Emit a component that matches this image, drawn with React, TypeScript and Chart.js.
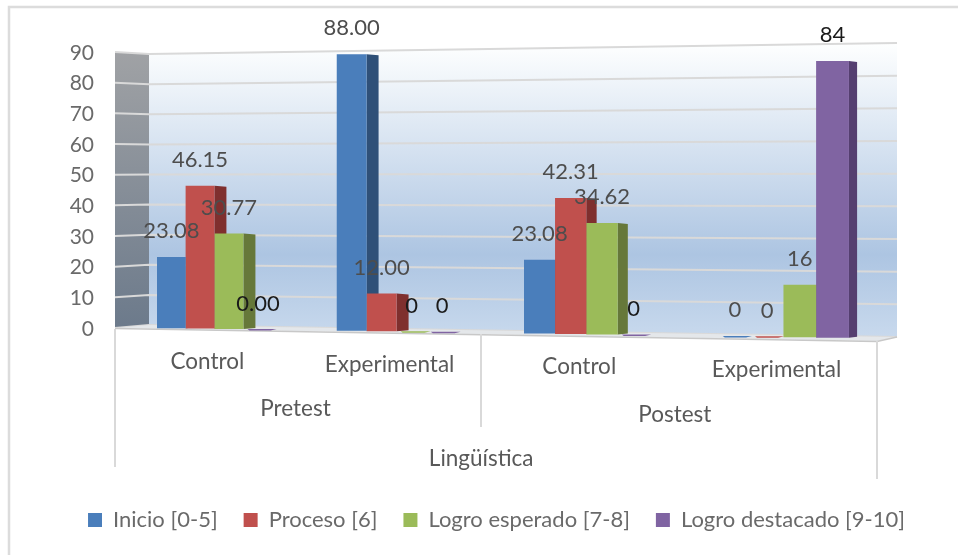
import React, { useEffect, useRef } from "react";
import { Chart, registerables } from "chart.js";

Chart.register(...registerables);

// ---- data ----
const categories = ["Control", "Experimental", "Control", "Experimental"];
const groups = ["Pretest", "Postest"];
const topLevel = "Lingüística";
const seriesNames = ["Inicio [0-5]", "Proceso [6]", "Logro esperado [7-8]", "Logro destacado [9-10]"];
const inicio = [23.08, 88.0, 23.08, 0];
const proceso = [46.15, 12.0, 42.31, 0];
const esperado = [30.77, 0, 34.62, 16];
const destacado = [0, 0, 0, 84];
const inicioLabels = ["23.08", "88.00", "23.08", "0"];
const procesoLabels = ["46.15", "12.00", "42.31", "0"];
const esperadoLabels = ["30.77", "0", "34.62", "16"];
const destacadoLabels = ["0.00", "0", "0", "84"];
const yTicks = [0, 10, 20, 30, 40, 50, 60, 70, 80, 90];

// ---- styles ----
const frontColors = ["#4a7ebb", "#c0504d", "#9bbb59", "#8064a2"];
const sideColors = ["#2f5078", "#7f2f2e", "#66783a", "#553f70"];
const FONT = "Lato, Carlito, sans-serif";
const TEXT = "#595959";
const LINE = "#d9d9d9";
const allLabels = [inicioLabels, procesoLabels, esperadoLabels, destacadoLabels];
const blackLabels = ["3:0", "2:1", "3:1", "3:2", "3:3"];

// ---- 3D projection of the flat scales ----
const warpX = (chart: any, px: number) => {
  const a = chart.chartArea;
  const t = (px - a.left) / ((a.right - a.left) / 4) - 0.5 + 0.324;
  return 157 + 176 * t + 3.75 * t * t;
};
const floorY = (x: number) => 328 + (x - 157) * 0.0145;
const unitY = (x: number) => 3.08 + (x - 157) * 0.00032;
const sideDepth = (x: number) => Math.max(8, 12 - Math.max(0, x - 395) * 0.0085);
const wallY = (x: number, v: number) => {
  const k = (x - 149) / (897 - 149);
  const base = 325 + 12 * k;
  const u = 3.01 + 0.257 * k;
  return base - v * u;
};

const plugin3d = {
  id: "plugin3d",
  afterLayout(chart: any) {
    const lg = chart.legend;
    lg.top = 483;
    lg.bottom = 483 + lg.height;
    lg.left += 48;
    lg.right += 48;
  },
  afterDatasetsUpdate(chart: any) {
    const ys = chart.scales.y;
    chart.data.datasets.forEach((_: any, di: number) => {
      chart.getDatasetMeta(di).data.forEach((el: any) => {
        const l = warpX(chart, el.x - el.width / 2);
        const r = warpX(chart, el.x + el.width / 2);
        const c = (l + r) / 2;
        const v = ys.getValueForPixel(el.y);
        el.x = c;
        el.width = r - l;
        el.base = floorY(c);
        el.y = el.base - v * unitY(c);
        el.height = el.base - el.y;
      });
    });
  },
  beforeDatasetsDraw(chart: any) {
    const ctx = chart.ctx;
    ctx.save();
    // page frame
    ctx.strokeStyle = "#dcdcdc";
    ctx.lineWidth = 2.5;
    ctx.beginPath();
    ctx.moveTo(958, 7);
    ctx.lineTo(9, 7);
    ctx.lineTo(9, 555);
    ctx.stroke();
    // back wall
    const back = ctx.createLinearGradient(0, 43, 0, 337);
    back.addColorStop(0, "#feffff");
    back.addColorStop(0.72, "#adc5e2");
    back.addColorStop(1, "#c8d9ed");
    ctx.fillStyle = back;
    ctx.beginPath();
    ctx.moveTo(149, wallY(149, 90));
    ctx.lineTo(897, wallY(897, 90));
    ctx.lineTo(897, wallY(897, 0));
    ctx.lineTo(149, wallY(149, 0));
    ctx.closePath();
    ctx.fill();
    // side wall
    const side = ctx.createLinearGradient(0, 52, 0, 328);
    side.addColorStop(0, "#a0a2a5");
    side.addColorStop(1, "#6c7a8b");
    ctx.fillStyle = side;
    ctx.beginPath();
    ctx.moveTo(115, 328 - 90 * 3.067);
    ctx.lineTo(149, wallY(149, 90));
    ctx.lineTo(149, wallY(149, 0));
    ctx.lineTo(115, 328);
    ctx.closePath();
    ctx.fill();
    // gridlines from the value axis ticks
    ctx.strokeStyle = LINE;
    ctx.lineWidth = 2;
    yTicks.forEach((v) => {
      ctx.beginPath();
      ctx.moveTo(115, 328 - v * 3.067);
      ctx.lineTo(149, wallY(149, v));
      ctx.lineTo(897, wallY(897, v));
      ctx.stroke();
    });
    // floor
    ctx.fillStyle = "#e4e7ea";
    ctx.beginPath();
    ctx.moveTo(115, 328);
    ctx.lineTo(149, wallY(149, 0));
    ctx.lineTo(897, wallY(897, 0));
    ctx.lineTo(877, 341);
    ctx.closePath();
    ctx.fill();
    ctx.strokeStyle = "#c8c8c8";
    ctx.lineWidth = 1.5;
    ctx.beginPath();
    ctx.moveTo(115, 328.5);
    ctx.lineTo(877, 341.5);
    ctx.lineTo(897, 337);
    ctx.stroke();
    // multi-level separators
    ctx.strokeStyle = LINE;
    ctx.lineWidth = 2;
    [
      [115, 329, 467],
      [481, 334, 427],
      [877, 341, 479],
    ].forEach(([x, a, b]) => {
      ctx.beginPath();
      ctx.moveTo(x, a);
      ctx.lineTo(x, b);
      ctx.stroke();
    });
    // bar side faces and zero slivers
    chart.data.datasets.forEach((ds: any, di: number) => {
      chart.getDatasetMeta(di).data.forEach((el: any, i: number) => {
        const right = el.x + el.width / 2;
        const d = sideDepth(right);
        if (ds.data[i] === 0) {
          ctx.fillStyle = frontColors[di];
          ctx.beginPath();
          ctx.moveTo(el.x - el.width / 2 + 4, el.base - 0.5);
          ctx.lineTo(right + d - 8, el.base - 0.5);
          ctx.lineTo(right + d - 14, el.base + 1);
          ctx.lineTo(el.x - el.width / 2 + 6, el.base + 1);
          ctx.closePath();
          ctx.fill();
          return;
        }
        ctx.fillStyle = sideColors[di];
        ctx.beginPath();
        ctx.moveTo(right, el.y);
        ctx.lineTo(right + d, el.y + 1);
        ctx.lineTo(right + d, el.base - 1);
        ctx.lineTo(right, el.base);
        ctx.closePath();
        ctx.fill();
      });
    });
    ctx.restore();
  },
  afterDatasetsDraw(chart: any) {
    const ctx = chart.ctx;
    ctx.save();
    ctx.textAlign = "center";
    ctx.textBaseline = "middle";
    // data labels
    ctx.font = `22px ${FONT}`;
    chart.data.datasets.forEach((_: any, di: number) => {
      chart.getDatasetMeta(di).data.forEach((el: any, i: number) => {
        ctx.fillStyle = blackLabels.includes(`${di}:${i}`) ? "#1a1a1a" : "#4d4d4d";
        ctx.fillText(allLabels[di][i], el.x, el.y - 26);
      });
    });
    // category labels
    ctx.font = `22.5px ${FONT}`;
    ctx.fillStyle = TEXT;
    const xs = chart.scales.x;
    const centers = categories.map((c, i) => {
      const x = warpX(chart, xs.getPixelForValue(i)) - 7;
      ctx.fillText(c, x, floorY(x) + 33);
      return x;
    });
    const gx = groups.map((g, i) => {
      const x = (centers[i * 2] + centers[i * 2 + 1]) / 2 - 3;
      ctx.fillText(g, x, floorY(x) + 79);
      return x;
    });
    const tx = (gx[0] + gx[1]) / 2 - 4;
    ctx.fillText(topLevel, tx, floorY(tx) + 126);
    ctx.restore();
  },
};

export default function App() {
  const ref = useRef<HTMLCanvasElement | null>(null);
  useEffect(() => {
    if (!ref.current) return;
    const series = [inicio, proceso, esperado, destacado];
    const chart = new Chart(ref.current, {
      type: "bar",
      data: {
        labels: categories,
        datasets: series.map((data, i) => ({
          label: seriesNames[i],
          data,
          backgroundColor: frontColors[i],
          borderWidth: 0,
          categoryPercentage: 0.648,
          barPercentage: 1,
          clip: false,
        })),
      },
      options: {
        responsive: false,
        animation: false,
        layout: { padding: { top: 53, left: 0, right: 61, bottom: 168 } },
        plugins: {
          tooltip: { enabled: false },
          legend: {
            position: "bottom",
            labels: {
              color: "#6a6a6a",
              boxWidth: 14,
              boxHeight: 14,
              padding: 26,
              font: { family: FONT, size: 22 },
            },
          },
        },
        scales: {
          x: { display: false },
          y: {
            min: 0,
            max: 90,
            afterFit: (s: any) => {
              s.width = 115;
            },
            afterBuildTicks: (s: any) => {
              s.ticks = yTicks.map((value) => ({ value }));
            },
            border: { display: false },
            grid: { display: false, drawTicks: false },
            ticks: {
              padding: 21,
              color: "#6a6a6a",
              font: { family: FONT, size: 21 },
            },
          },
        },
      },
      plugins: [plugin3d],
    } as any);
    return () => chart.destroy();
  }, []);
  return (
    <div style={{ position: "fixed", left: 0, top: 0, width: 958, height: 555, overflow: "hidden", background: "#fff" }}>
      <canvas ref={ref} width={958} height={555} style={{ display: "block", filter: "blur(0.6px)" }} />
    </div>
  );
}
